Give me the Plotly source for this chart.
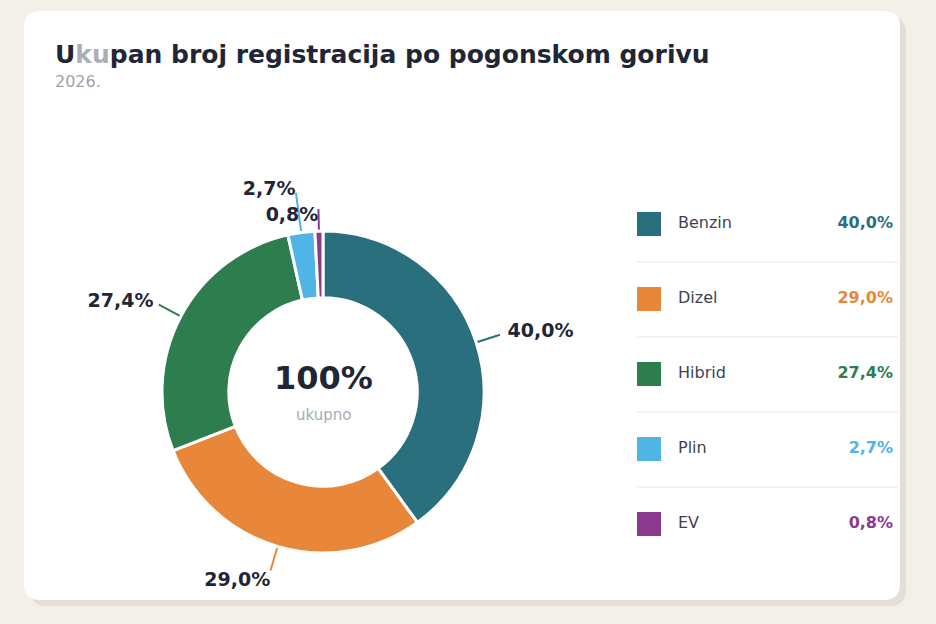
import math
import plotly.graph_objects as go

# -----------------------------
# Data
# -----------------------------
fuels = ["Benzin", "Dizel", "Hibrid", "Plin", "EV"]
shares = [40.0, 29.0, 27.4, 2.7, 0.8]
share_labels = ["40,0%", "29,0%", "27,4%", "2,7%", "0,8%"]
colors = ["#2a6f7e", "#e8873a", "#2e7d4e", "#50b4e6", "#8c3a8f"]

title_text = "U<span style='color:#aab0b6'>ku</span>pan broj registracija po pogonskom gorivu"
subtitle_text = "2026."
center_text = "100%"
center_sub = "ukupno"

# -----------------------------
# Layout bits (pixel space, y grows downward)
# -----------------------------
W, H = 936, 624
CX, CY, R = 323, 392, 161
FONT = "DejaVu Sans"
DARK = "#1f2636"

leader_len = [25, 25, 25, 40, 22]
label_gap = [8, 1, 6, 3, 2]
label_pos = ["middle right", "bottom left", "middle left", "middle left", "bottom left"]

LEG_X = 649
LEG_Y0 = 224
LEG_STEP = 75


def rounded_rect(x0, y0, x1, y1, r):
    return (f"M{x0+r},{y0} L{x1-r},{y0} Q{x1},{y0} {x1},{y0+r} "
            f"L{x1},{y1-r} Q{x1},{y1} {x1-r},{y1} L{x0+r},{y1} "
            f"Q{x0},{y1} {x0},{y1-r} L{x0},{y0+r} Q{x0},{y0} {x0+r},{y0} Z")


fig = go.Figure()

# donut
fig.add_trace(go.Pie(
    labels=fuels,
    values=shares,
    hole=0.585,
    sort=False,
    direction="clockwise",
    rotation=0,
    marker=dict(colors=colors, line=dict(color="white", width=3)),
    textinfo="none",
    hoverinfo="label+percent",
    showlegend=False,
    domain=dict(x=[(CX - R) / W, (CX + R) / W], y=[1 - (CY + R) / H, 1 - (CY - R) / H]),
))

# leader lines + outside labels, angles taken from the data
total = sum(shares)
cum = 0
lx, ly = [], []
for i, v in enumerate(shares):
    mid = (cum + v / 2) / total * 2 * math.pi
    cum += v
    dx, dy = math.sin(mid), -math.cos(mid)
    r1 = R + leader_len[i]
    fig.add_trace(go.Scatter(
        x=[CX + (R - 2) * dx, CX + r1 * dx],
        y=[CY + (R - 2) * dy, CY + r1 * dy],
        mode="lines", line=dict(color=colors[i], width=2),
        hoverinfo="skip", showlegend=False,
    ))
    lx.append(CX + (r1 + label_gap[i]) * dx)
    ly.append(CY + (r1 + label_gap[i]) * dy)

fig.add_trace(go.Scatter(
    x=lx, y=ly, mode="text", text=share_labels, textposition=label_pos,
    textfont=dict(family=FONT, size=19, color=DARK, weight="bold"),
    hoverinfo="skip", showlegend=False,
))

# custom legend on the right
rows = [LEG_Y0 + LEG_STEP * i for i in range(len(fuels))]
fig.add_trace(go.Scatter(
    x=[LEG_X] * len(fuels), y=rows, mode="markers",
    marker=dict(symbol="square", size=24, color=colors, line=dict(width=0)),
    hoverinfo="skip", showlegend=False,
))
fig.add_trace(go.Scatter(
    x=[678] * len(fuels), y=rows, mode="text", text=fuels, textposition="middle right",
    textfont=dict(family=FONT, size=16, color="#3d4350"),
    hoverinfo="skip", showlegend=False,
))
fig.add_trace(go.Scatter(
    x=[893] * len(fuels), y=rows, mode="text", text=share_labels, textposition="middle left",
    textfont=dict(family=FONT, size=16, color=colors, weight="bold"),
    hoverinfo="skip", showlegend=False,
))

shapes = [
    dict(type="path", path=rounded_rect(30, 17, 906, 606, 16), fillcolor="#e3dfd6",
         line=dict(width=0), xref="x", yref="y", layer="below"),
    dict(type="path", path=rounded_rect(24, 11, 900, 600, 16), fillcolor="white",
         line=dict(width=0), xref="x", yref="y", layer="below"),
]
for y in rows[:-1]:
    shapes.append(dict(type="line", x0=636, x1=898, y0=y + 38, y1=y + 38, xref="x", yref="y",
                       line=dict(color="#e6e7ea", width=1), layer="below"))

annotations = [
    dict(x=53, y=54, xref="x", yref="y", text=title_text, showarrow=False, xanchor="left",
         yanchor="middle", font=dict(family=FONT, size=25, color=DARK, weight="bold")),
    dict(x=53, y=81, xref="x", yref="y", text=subtitle_text, showarrow=False, xanchor="left",
         yanchor="middle", font=dict(family=FONT, size=16, color="#9ea3aa")),
    dict(x=CX, y=378, xref="x", yref="y", text=center_text, showarrow=False,
         font=dict(family=FONT, size=32, color=DARK, weight="bold")),
    dict(x=CX, y=415, xref="x", yref="y", text=center_sub, showarrow=False,
         font=dict(family=FONT, size=15, color="#a7abb2")),
]

fig.update_layout(
    width=W, height=H,
    margin=dict(l=0, r=0, t=0, b=0),
    paper_bgcolor="#f3f0ea",
    plot_bgcolor="rgba(0,0,0,0)",
    xaxis=dict(range=[0, W], visible=False, fixedrange=True, domain=[0, 1]),
    yaxis=dict(range=[H, 0], visible=False, fixedrange=True, domain=[0, 1]),
    shapes=shapes,
    annotations=annotations,
    showlegend=False,
)

# drop the browser's default 8px body margin so the figure sits at the page origin
fig.write_html("out.html", config={"displayModeBar": False},
               post_script="document.body.style.margin='0';")
